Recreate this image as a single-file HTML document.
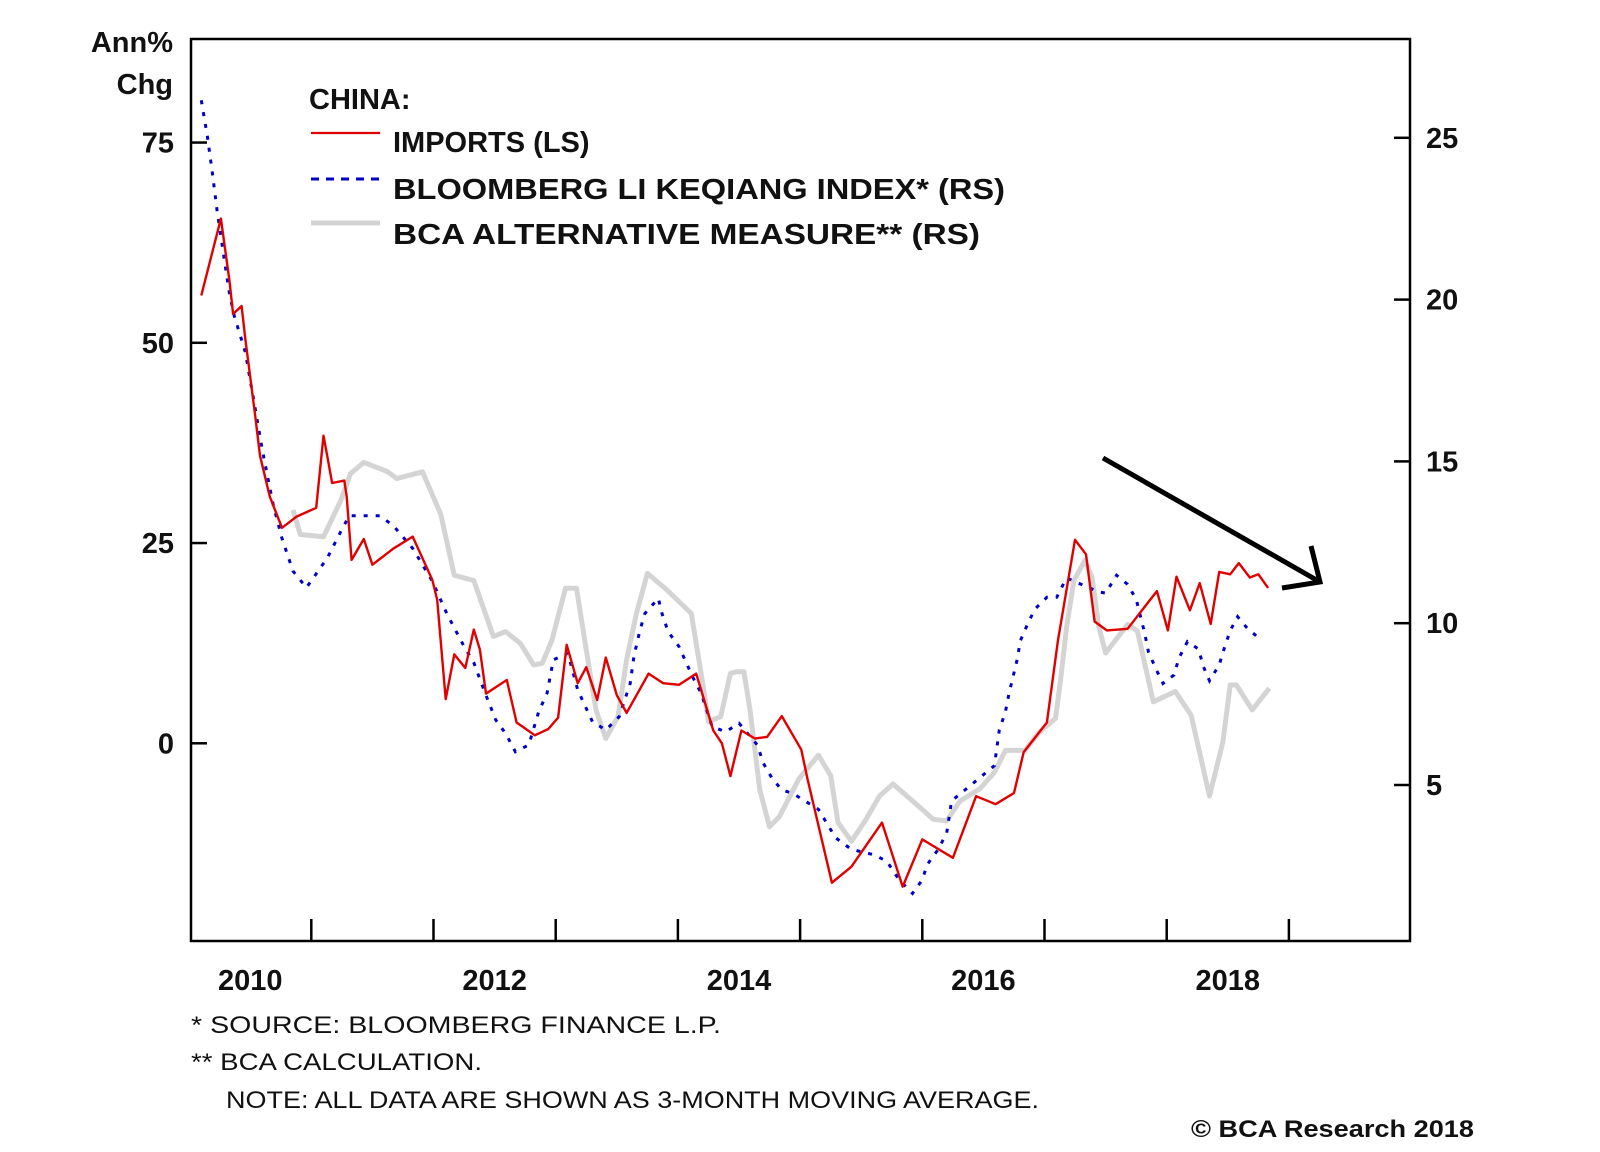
<!DOCTYPE html>
<html><head><meta charset="utf-8"><style>
html,body{margin:0;padding:0;background:#fff;}
svg{display:block;font-family:"Liberation Sans",Arial,sans-serif;}
</style></head><body>
<svg id="chart" width="1600" height="1152" viewBox="0 0 1600 1152" xmlns="http://www.w3.org/2000/svg">
<rect x="0" y="0" width="1600" height="1152" fill="#fff"/>
<g id="series"></g>
<rect x="191" y="39" width="1219" height="902" fill="none" stroke="#000" stroke-width="2.5"/>
<g id="axes"></g>
<text x="173" y="52" text-anchor="end" font-size="29" font-weight="bold" fill="#111">Ann%</text>
<text x="173" y="94" text-anchor="end" font-size="29" font-weight="bold" fill="#111">Chg</text>
<g>
<text x="309" y="109" font-size="29" font-weight="bold" fill="#111">CHINA:</text>
<line x1="311" y1="133" x2="380" y2="133" stroke="#e00000" stroke-width="2.2"/>
<text x="393" y="152" font-size="29" font-weight="bold" fill="#111">IMPORTS (LS)</text>
<line x1="311" y1="179" x2="380" y2="179" stroke="#0000c8" stroke-width="3" stroke-dasharray="8,7"/>
<text x="393" y="199" font-size="29" font-weight="bold" fill="#111" textLength="612" lengthAdjust="spacingAndGlyphs">BLOOMBERG LI KEQIANG INDEX* (RS)</text>
<line x1="311" y1="223" x2="380" y2="223" stroke="#d4d4d4" stroke-width="5"/>
<text x="393" y="244" font-size="29" font-weight="bold" fill="#111" textLength="587" lengthAdjust="spacingAndGlyphs">BCA ALTERNATIVE MEASURE** (RS)</text>
</g>
<g stroke="#000" stroke-width="5" fill="none" stroke-linejoin="miter">
<line x1="1103" y1="458" x2="1320" y2="582"/>
<polyline points="1311,546 1320,582 1282,588"/>
</g>
<text x="191" y="1033" font-size="24" fill="#111" textLength="530" lengthAdjust="spacingAndGlyphs">*  SOURCE: BLOOMBERG FINANCE L.P.</text>
<text x="191" y="1070" font-size="24" fill="#111" textLength="291" lengthAdjust="spacingAndGlyphs">** BCA CALCULATION.</text>
<text x="226" y="1108" font-size="24" fill="#111" textLength="813" lengthAdjust="spacingAndGlyphs">NOTE: ALL DATA ARE SHOWN AS 3-MONTH MOVING AVERAGE.</text>
<text x="1474" y="1137" text-anchor="end" font-size="24" font-weight="bold" fill="#111" textLength="283" lengthAdjust="spacingAndGlyphs">© BCA Research 2018</text>
</svg>
<script>
const importsDates=[2010.10,2010.26,2010.33,2010.36,2010.43,2010.46,2010.54,2010.58,2010.66,2010.76,2010.88,2011.04,2011.10,2011.13,2011.17,2011.27,2011.29,2011.33,2011.43,2011.50,2011.67,2011.83,2011.99,2012.03,2012.10,2012.17,2012.26,2012.33,2012.38,2012.43,2012.60,2012.68,2012.83,2012.94,2013.02,2013.09,2013.18,2013.25,2013.34,2013.41,2013.50,2013.58,2013.76,2013.88,2014.01,2014.15,2014.29,2014.36,2014.43,2014.52,2014.63,2014.73,2014.85,2015.01,2015.06,2015.26,2015.42,2015.67,2015.84,2016.00,2016.25,2016.44,2016.60,2016.75,2016.83,2017.02,2017.11,2017.25,2017.34,2017.41,2017.51,2017.68,2017.92,2018.01,2018.08,2018.19,2018.27,2018.36,2018.43,2018.52,2018.59,2018.68,2018.75,2018.83];
const importsValues=[55.9,65.5,57.8,53.6,54.6,50.5,41.0,35.9,30.8,26.9,28.3,29.4,38.4,35.9,32.5,32.8,30.8,22.9,25.5,22.3,24.3,25.8,20.4,17.9,5.5,11.1,9.4,14.2,11.7,6.2,7.9,2.6,1.0,1.8,3.2,12.3,7.5,9.5,5.4,10.7,6.0,3.8,8.7,7.5,7.3,8.7,1.6,0.0,-4.1,1.6,0.6,0.8,3.4,-0.8,-4.4,-17.4,-15.4,-9.9,-17.9,-12.0,-14.3,-6.6,-7.6,-6.2,-1.1,2.6,12.8,25.4,23.6,15.2,14.1,14.3,19.0,14.1,20.8,16.6,20.0,14.9,21.4,21.1,22.5,20.7,21.1,19.4];
const keqiangDates=[2010.10,2010.15,2010.19,2010.23,2010.29,2010.33,2010.37,2010.46,2010.53,2010.60,2010.69,2010.76,2010.85,2010.96,2011.13,2011.24,2011.31,2011.56,2011.67,2011.83,2011.99,2012.11,2012.25,2012.33,2012.43,2012.51,2012.59,2012.67,2012.78,2012.86,2012.93,2012.98,2013.10,2013.18,2013.30,2013.41,2013.52,2013.61,2013.64,2013.69,2013.73,2013.84,2013.87,2013.92,2014.01,2014.12,2014.19,2014.28,2014.39,2014.50,2014.65,2014.70,2014.77,2014.85,2014.94,2015.15,2015.29,2015.42,2015.61,2015.71,2015.81,2015.92,2016.00,2016.04,2016.13,2016.20,2016.24,2016.36,2016.59,2016.63,2016.68,2016.71,2016.78,2016.80,2016.86,2016.92,2017.02,2017.10,2017.18,2017.44,2017.50,2017.59,2017.68,2017.75,2017.82,2017.85,2017.91,2017.97,2018.06,2018.10,2018.17,2018.26,2018.30,2018.35,2018.43,2018.47,2018.52,2018.58,2018.66,2018.76];
const keqiangValues=[26.16,25.04,23.93,22.72,21.2,20.2,19.49,18.38,16.86,15.34,13.63,12.62,11.61,11.1,12.01,12.82,13.32,13.32,13.02,12.31,11.3,10.29,9.28,8.78,7.77,7.01,6.59,6.03,6.24,7.26,7.84,8.87,9.07,7.94,6.96,6.7,7.11,8.14,8.97,9.79,10.3,10.77,10.3,9.74,9.27,8.34,7.84,6.81,6.64,6.91,6.24,5.67,5.21,4.85,4.74,4.25,3.37,3.01,2.84,2.64,2.07,1.65,2.07,2.54,3.01,3.52,4.51,4.88,5.6,6.7,7.26,7.84,8.93,9.44,9.96,10.43,10.8,10.8,11.4,10.97,10.93,11.48,11.2,10.74,9.69,9.12,8.6,8.14,8.4,8.92,9.43,9.2,8.66,8.22,8.71,9.21,9.77,10.2,9.84,9.52];
const bcaDates=[2010.85,2010.91,2011.10,2011.24,2011.32,2011.43,2011.62,2011.70,2011.91,2012.06,2012.17,2012.33,2012.49,2012.59,2012.71,2012.82,2012.89,2012.97,2013.08,2013.17,2013.25,2013.33,2013.41,2013.51,2013.58,2013.66,2013.75,2013.91,2014.11,2014.19,2014.25,2014.35,2014.43,2014.48,2014.54,2014.59,2014.67,2014.75,2014.83,2014.99,2015.15,2015.25,2015.31,2015.42,2015.54,2015.65,2015.76,2015.92,2016.09,2016.20,2016.31,2016.47,2016.59,2016.68,2016.84,2016.96,2017.09,2017.13,2017.18,2017.24,2017.33,2017.39,2017.44,2017.50,2017.68,2017.76,2017.89,2018.07,2018.20,2018.35,2018.46,2018.52,2018.57,2018.70,2018.84];
const bcaValues=[13.5,12.74,12.67,13.78,14.62,14.97,14.69,14.47,14.68,13.36,11.48,11.32,9.59,9.74,9.38,8.71,8.76,9.48,11.08,11.08,9.17,7.32,6.44,7.11,8.87,10.3,11.54,11.03,10.3,8.45,6.96,7.11,8.45,8.5,8.5,7.32,4.85,3.71,4.02,5.19,5.92,5.29,3.84,3.26,3.94,4.66,5.03,4.51,3.94,3.89,4.51,4.88,5.39,6.07,6.07,6.64,7.06,8.2,9.86,11.31,11.94,11.41,9.96,9.08,9.96,9.76,7.57,7.89,7.16,4.66,6.33,8.09,8.09,7.32,7.99];
const leftTicks=[0,25,50,75];
const rightTicks=[5,10,15,20,25];
const yearTicks=[2011,2012,2013,2014,2015,2016,2017,2018,2019];
const yearLabels=[2010,2012,2014,2016,2018];

const NS="http://www.w3.org/2000/svg";
function xScale(t){return 311.3+(t-2011)*122.2;}
function yLeft(v){return 743.3-v*8.01;}
function yRight(v){return 785-(v-5)*32.36;}
function mk(tag,attrs,parent){const e=document.createElementNS(NS,tag);for(const k in attrs)e.setAttribute(k,attrs[k]);parent.appendChild(e);return e;}
const series=document.getElementById('series');
const axes=document.getElementById('axes');
function pts(ds,vs,ys){return ds.map((d,i)=>xScale(d).toFixed(1)+','+ys(vs[i]).toFixed(1)).join(' ');}
const gray=mk('polyline',{points:pts(bcaDates,bcaValues,yRight),fill:'none',stroke:'#d4d4d4','stroke-width':5,'stroke-linejoin':'round'},series);


const blue=mk('polyline',{points:pts(keqiangDates,keqiangValues,yRight),fill:'none',stroke:'#0000c8','stroke-width':3,'stroke-dasharray':'4,8'},series);


const red=mk('polyline',{points:pts(importsDates,importsValues,yLeft),fill:'none',stroke:'#e00000','stroke-width':2.4,'stroke-linejoin':'round'},series);


leftTicks.forEach(v=>{const y=yLeft(v);
 const l=mk('line',{x1:191,x2:207,y1:y,y2:y,stroke:'#000','stroke-width':2.5},axes);
 
 
 const t=mk('text',{x:174,y:y+10,'text-anchor':'end','font-size':29,'font-weight':'bold',fill:'#111'},axes);t.textContent=v;
 
 });
rightTicks.forEach(v=>{const y=yRight(v);
 const l=mk('line',{x1:1394,x2:1410,y1:y,y2:y,stroke:'#000','stroke-width':2.5},axes);
 
 
 const t=mk('text',{x:1426,y:y+10,'font-size':29,'font-weight':'bold',fill:'#111'},axes);t.textContent=v;
 
 });
yearTicks.forEach(yr=>{const x=xScale(yr);
 const l=mk('line',{x1:x,x2:x,y1:919,y2:941,stroke:'#000','stroke-width':2.5},axes);
 
 });
yearLabels.forEach(yr=>{const x=xScale(yr+0.5);
 const t=mk('text',{x:x,y:990,'text-anchor':'middle','font-size':29,'font-weight':'bold',fill:'#111'},axes);t.textContent=yr;
 
 });
</script>
</body></html>
